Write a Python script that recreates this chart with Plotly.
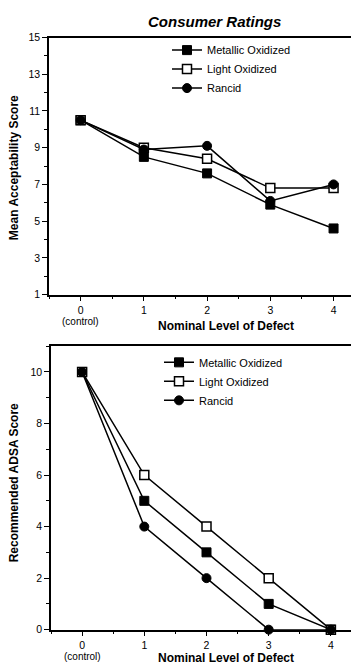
import plotly.graph_objects as go

# ---- data ----
levels = [0, 1, 2, 3, 4]
tick_labels = ["0", "1", "2", "3", "4"]
control_label = "(control)"
series_names = ["Metallic Oxidized", "Light Oxidized", "Rancid"]

# Consumer ratings (mean acceptability score)
consumer_metallic = [10.5, 8.5, 7.6, 5.9, 4.6]
consumer_light = [10.5, 9.0, 8.4, 6.8, 6.8]
consumer_rancid = [10.5, 8.9, 9.1, 6.1, 7.0]

# Recommended ADSA score
adsa_metallic = [10, 5, 3, 1, 0]
adsa_light = [10, 6, 4, 2, 0]
adsa_rancid = [10, 4, 2, 0, 0]

W, H = 359, 664
FONT = "Liberation Sans, Arial, Helvetica, sans-serif"

def px_x(p):
    return p / W

def px_y(p):
    return 1 - p / H

styles = [
    dict(symbol="square", size=9, color="black", line=dict(color="black", width=1)),
    dict(symbol="square", size=9, color="white", line=dict(color="black", width=1.5)),
    dict(symbol="circle", size=9, color="black", line=dict(color="black", width=1)),
]

fig = go.Figure()

top_series = [consumer_metallic, consumer_light, consumer_rancid]
bot_series = [adsa_metallic, adsa_light, adsa_rancid]

for name, vals, st in zip(series_names, top_series, styles):
    fig.add_trace(go.Scatter(
        x=levels, y=vals, name=name, mode="lines+markers",
        line=dict(color="black", width=1.5), marker=st,
        xaxis="x", yaxis="y", legend="legend", cliponaxis=False,
    ))

for name, vals, st in zip(series_names, bot_series, styles):
    fig.add_trace(go.Scatter(
        x=levels, y=vals, name=name, mode="lines+markers",
        line=dict(color="black", width=1.5), marker=st,
        xaxis="x2", yaxis="y2", legend="legend2", cliponaxis=False,
    ))

tickfont = dict(family=FONT, size=10.5, color="black")
axis_common = dict(
    showline=True, linecolor="black", linewidth=1.5, mirror=True,
    ticks="outside", ticklen=5, tickwidth=1, tickcolor="black",
    showgrid=False, zeroline=False,
    tickfont=tickfont,
)

small = dict(family=FONT, size=11, color="black")
ctrl = dict(family=FONT, size=10, color="black")
bold = dict(family=FONT, size=12, color="black")

fig.update_layout(
    width=W, height=H,
    margin=dict(l=0, r=0, t=0, b=0),
    paper_bgcolor="white", plot_bgcolor="white",
    font=dict(family=FONT, color="black"),
    showlegend=True,
    xaxis=dict(
        domain=[px_x(41), px_x(354)], range=[-0.5, 4.45], anchor="y",
        tickmode="array", tickvals=levels, ticktext=tick_labels,
        minor=dict(dtick=0.5, tick0=0, ticks="outside", ticklen=3, tickcolor="black", showgrid=False),
        **axis_common,
    ),
    yaxis=dict(
        domain=[px_y(285.7), px_y(24)], range=[1, 15], anchor="x",
        tick0=1, dtick=2,
        minor=dict(dtick=1, tick0=1, ticks="outside", ticklen=3, tickcolor="black", showgrid=False),
        **axis_common,
    ),
    xaxis2=dict(
        domain=[px_x(43), px_x(354)], range=[-0.5, 4.5], anchor="y2",
        tickmode="array", tickvals=levels, ticktext=tick_labels,
        minor=dict(dtick=0.5, tick0=0, ticks="outside", ticklen=3, tickcolor="black", showgrid=False),
        **axis_common,
    ),
    yaxis2=dict(
        domain=[px_y(627), px_y(338.3)], range=[0, 11], anchor="x2",
        tick0=0, dtick=2,
        minor=dict(dtick=1, tick0=0, ticks="outside", ticklen=3, tickcolor="black", showgrid=False),
        **axis_common,
    ),
    legend=dict(
        x=px_x(159), y=px_y(22), xanchor="left", yanchor="top",
        bgcolor="rgba(0,0,0,0)", borderwidth=0,
        font=small, itemclick=False, itemdoubleclick=False,
    ),
    legend2=dict(
        x=px_x(151), y=px_y(340), xanchor="left", yanchor="top",
        bgcolor="rgba(0,0,0,0)", borderwidth=0,
        font=small, itemclick=False, itemdoubleclick=False,
    ),
    annotations=[
        dict(text="<b><i>Consumer Ratings</i></b>", x=px_x(207), y=px_y(8),
             xref="paper", yref="paper", xanchor="center", yanchor="middle",
             showarrow=False, font=dict(family=FONT, size=15, color="black")),
        dict(text="<b>Mean Acceptability Score</b>", x=px_x(6), y=px_y(157),
             xref="paper", yref="paper", xanchor="center", yanchor="middle",
             textangle=-90, showarrow=False, font=bold),
        dict(text=control_label, x=levels[0], y=px_y(313.5),
             xref="x", yref="paper", xanchor="center", yanchor="middle",
             showarrow=False, font=ctrl),
        dict(text="<b>Nominal Level of Defect</b>", x=px_x(218), y=px_y(318),
             xref="paper", yref="paper", xanchor="center", yanchor="middle",
             showarrow=False, font=bold),
        dict(text="<b>Recommended ADSA Score</b>", x=px_x(6), y=px_y(478),
             xref="paper", yref="paper", xanchor="center", yanchor="middle",
             textangle=-90, showarrow=False, font=bold),
        dict(text=control_label, x=levels[0], y=px_y(654.5),
             xref="x2", yref="paper", xanchor="center", yanchor="middle",
             showarrow=False, font=ctrl),
        dict(text="<b>Nominal Level of Defect</b>", x=px_x(218), y=px_y(656),
             xref="paper", yref="paper", xanchor="center", yanchor="middle",
             showarrow=False, font=bold),
    ],
)

fig.write_html("out.html")
